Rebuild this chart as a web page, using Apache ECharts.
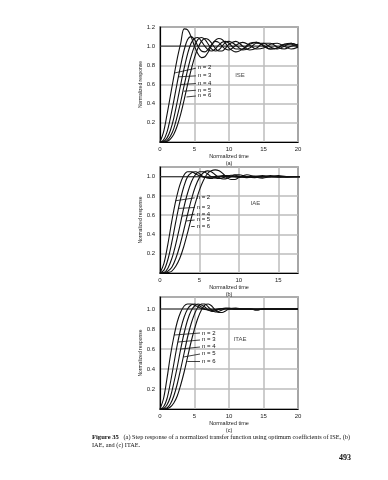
<!DOCTYPE html>
<html><head><meta charset="utf-8">
<script src="https://cdn.jsdelivr.net/npm/echarts@6/dist/echarts.min.js"></script>
<style>html,body{margin:0;padding:0;background:#fff}#c{width:388px;height:480px}</style>
</head><body><div id="c"></div>
<script>
// time samples (normalized time)
const T = [0,0.5,1,1.5,2,2.5,3,3.5,4,4.5,5,5.5,6,6.5,7,7.5,8,8.5,9,9.5,10,11,12,13,14,15,16,17,18,19,20];
const orders = [2,3,4,5,6];

// (a) ISE
const ise_n2 = [0,0.1,0.28,0.48,0.68,0.87,1.03,1.18,1.17,1.1,1.0,0.92,0.88,0.89,0.94,1.01,1.06,1.08,1.07,1.03,0.98,0.94,0.97,1.03,1.04,1.0,0.97,0.98,1.02,1.02,0.99];
const ise_n3 = [0,0.02,0.1,0.25,0.43,0.62,0.8,0.96,1.07,1.1,1.07,1.0,0.95,0.94,0.97,1.02,1.05,1.04,1.0,0.97,0.96,1.01,1.04,1.01,0.97,0.98,1.02,1.03,1.0,0.97,0.99];
const ise_n4 = [0,0.005,0.04,0.12,0.25,0.42,0.6,0.77,0.92,1.03,1.08,1.09,1.05,1.0,0.96,0.95,0.97,1.01,1.04,1.05,1.03,0.97,0.97,1.02,1.04,1.01,0.97,0.98,1.02,1.03,1.0];
const ise_n5 = [0,0,0.015,0.06,0.14,0.27,0.42,0.59,0.75,0.89,1.0,1.07,1.09,1.07,1.02,0.97,0.95,0.96,1.0,1.04,1.05,1.01,0.96,0.98,1.03,1.03,0.99,0.97,1.0,1.03,1.01];
const ise_n6 = [0,0,0.005,0.03,0.08,0.17,0.29,0.44,0.6,0.75,0.88,0.98,1.05,1.08,1.07,1.03,0.98,0.95,0.95,0.98,1.02,1.05,1.0,0.96,0.98,1.03,1.03,0.99,0.97,1.0,1.02];

// (b) IAE
const iae_n2 = [0,0.1,0.3,0.54,0.75,0.91,1.01,1.05,1.05,1.03,1.01,0.995,0.99,0.995,1.0,1.005,1.005,1.0,1.0,1.0,1.0,1.0,1.0,1.0,1.0,1.0,1.0,1.0,1.0,1.0,1.0];
const iae_n3 = [0,0.03,0.14,0.32,0.53,0.73,0.89,1.0,1.04,1.05,1.03,1.0,0.985,0.98,0.99,1.0,1.01,1.01,1.005,1.0,0.995,1.0,1.005,1.0,1.0,1.0,1.0,1.0,1.0,1.0,1.0];
const iae_n4 = [0,0.005,0.05,0.15,0.3,0.48,0.67,0.83,0.95,1.02,1.05,1.05,1.03,1.0,0.985,0.98,0.99,1.005,1.015,1.015,1.005,0.99,1.0,1.01,1.0,0.995,1.0,1.0,1.0,1.0,1.0];
const iae_n5 = [0,0,0.02,0.06,0.15,0.28,0.44,0.61,0.77,0.9,0.99,1.04,1.06,1.05,1.02,0.99,0.975,0.98,1.0,1.02,1.02,1.0,0.99,1.0,1.01,1.0,0.995,1.0,1.0,1.0,1.0];
const iae_n6 = [0,0,0.005,0.02,0.07,0.15,0.27,0.42,0.58,0.73,0.86,0.96,1.03,1.06,1.07,1.06,1.03,0.99,0.97,0.97,0.99,1.02,1.0,0.985,1.0,1.01,1.0,1.0,1.0,1.0,1.0];

// (c) ITAE
const itae_n2 = [0,0.1,0.3,0.53,0.72,0.87,0.97,1.03,1.05,1.05,1.04,1.02,1.005,0.995,0.99,0.99,0.995,1.0,1.0,1.0,1.0,1.0,1.0,1.0,1.0,1.0,1.0,1.0,1.0,1.0,1.0];
const itae_n3 = [0,0.02,0.1,0.26,0.45,0.64,0.8,0.92,1.0,1.04,1.05,1.04,1.02,1.0,0.99,0.985,0.99,1.0,1.005,1.005,1.0,1.0,1.0,1.0,1.0,1.0,1.0,1.0,1.0,1.0,1.0];
const itae_n4 = [0,0.005,0.04,0.12,0.26,0.42,0.6,0.76,0.89,0.98,1.03,1.05,1.04,1.02,0.99,0.975,0.98,0.995,1.005,1.01,1.005,1.0,1.0,1.0,0.995,1.0,1.0,1.0,1.0,1.0,1.0];
const itae_n5 = [0,0,0.01,0.05,0.13,0.25,0.4,0.56,0.72,0.85,0.95,1.02,1.05,1.05,1.02,0.99,0.97,0.975,0.99,1.005,1.01,1.0,1.0,1.0,0.99,1.0,1.0,1.0,1.0,1.0,1.0];
const itae_n6 = [0,0,0.003,0.02,0.06,0.13,0.24,0.37,0.52,0.67,0.8,0.91,0.99,1.04,1.05,1.03,0.99,0.965,0.965,0.98,1.0,1.01,1.0,1.0,0.99,1.0,1.0,1.0,1.0,1.0,1.0];

// annotation leaders: start on curve -> end at label
const annA_from = [[2.1,0.72],[2.65,0.68],[3.0,0.6],[3.45,0.53],[3.85,0.47]];
const annA_to   = [[5.2,0.77],[5.2,0.69],[5.2,0.61],[5.2,0.54],[5.2,0.48]];
const annB_from = [[2.0,0.75],[2.35,0.67],[2.8,0.59],[3.3,0.54],[3.95,0.48]];
const annB_to   = [[4.4,0.78],[4.4,0.68],[4.4,0.61],[4.4,0.55],[4.4,0.48]];
const annC_from = [[2.05,0.74],[2.6,0.67],[3.0,0.6],[3.4,0.52],[3.95,0.48]];
const annC_to   = [[5.8,0.76],[5.8,0.69],[5.8,0.62],[5.8,0.55],[5.8,0.48]];
const criteria = ['ISE','IAE','ITAE'];
const criteriaPos = [[11.6,0.70],[12.1,0.72],[11.6,0.70]];
const panelTags = ['(a)','(b)','(c)'];
const xMax = [20,17.5,20];
const yMax = [1.2,1.1,1.12];

const panels = [
  {curves:[ise_n2,ise_n3,ise_n4,ise_n5,ise_n6], from:annA_from, to:annA_to},
  {curves:[iae_n2,iae_n3,iae_n4,iae_n5,iae_n6], from:annB_from, to:annB_to},
  {curves:[itae_n2,itae_n3,itae_n4,itae_n5,itae_n6], from:annC_from, to:annC_to}
];

const FONT = 'Liberation Sans, Arial, sans-serif';
const grids = [
  {left:160, top:27, width:138, height:115},
  {left:160, top:167, width:138, height:106},
  {left:160, top:297, width:138, height:112}
].map(g=>Object.assign(g,{show:true,borderColor:'#000',borderWidth:1.2,backgroundColor:'transparent'}));

const xAxes = [], yAxes = [], series = [];
panels.forEach((p,i)=>{
  xAxes.push({type:'value', gridIndex:i, min:0, max:xMax[i], interval:5,
    axisLine:{show:true,onZero:false,lineStyle:{color:'#000',width:1.2}},
    axisTick:{show:false},
    axisLabel:{fontSize:6,color:'#222',fontFamily:FONT,margin:4,
      formatter:v=> (v%5===0)? String(v):''},
    splitLine:{show:true,lineStyle:{color:'#bcbcbc',width:1.5}},
    name:'Normalized time\n'+panelTags[i], nameLocation:'middle', nameGap:6,
    nameTextStyle:{fontSize:5.5,color:'#222',fontFamily:FONT,lineHeight:7,verticalAlign:'top'}
  });
  yAxes.push({type:'value', gridIndex:i, min:0, max:yMax[i], interval:0.2,
    axisLine:{show:true,lineStyle:{color:'#000',width:1.2}},
    axisTick:{show:false},
    axisLabel:{fontSize:6,color:'#222',fontFamily:FONT,margin:5,
      formatter:v=> (v<0.01 || (v>1.01 && Math.abs(v-1.2)>0.01))? '' : v.toFixed(1)},
    splitLine:{show:true,lineStyle:{color:'#bcbcbc',width:1.5}},
    name:'Normalized response', nameLocation:'middle', nameGap:16,
    nameTextStyle:{fontSize:5,color:'#222',fontFamily:FONT}
  });
  p.curves.forEach((vals,k)=>{
    const n = orders[k];
    series.push({type:'line', xAxisIndex:i, yAxisIndex:i, showSymbol:false, smooth:0.35,
      data: T.map((t,j)=>[t,vals[j]]), clip:true, silent:true,
      lineStyle:{color:'#111',width:1.1},
      markLine:{silent:true, symbol:['none','none'], animation:false,
        lineStyle:{color:'#111',width:0.8,type:'solid'},
        label:{show:true, position:'end', formatter:'n = '+n, fontSize:6, color:'#111', fontFamily:FONT, distance:2},
        data:[[{coord:p.from[k]},{coord:p.to[k]}]]
      }
    });
  });
  // darker reference line at 1.0
  series.push({type:'line', xAxisIndex:i, yAxisIndex:i, showSymbol:false, silent:true,
    data:[[0,1],[xMax[i],1]], lineStyle:{color:'#333',width:1}, z:1});
  series.push({type:'scatter', xAxisIndex:i, yAxisIndex:i, symbolSize:0, silent:true,
    data:[criteriaPos[i]],
    label:{show:true, position:'inside', formatter:criteria[i], fontSize:6, color:'#111', fontFamily:FONT}});
});

const chart = echarts.init(document.getElementById('c'), null, {renderer:'canvas'});
chart.setOption({
  animation:false,
  backgroundColor:'#fff',
  grid:grids, xAxis:xAxes, yAxis:yAxes, series:series,
  graphic:[
    {type:'text', left:92, top:433, style:{text:'{b|Figure 35}   (a) Step response of a normalized transfer function using optimum coefficients of ISE, (b)\nIAE, and (c) ITAE.',
      font:'6.3px Liberation Serif, serif', fill:'#111', lineHeight:8.5,
      rich:{b:{fontWeight:'bold',fontSize:6.6,fontFamily:'Liberation Serif, serif',fill:'#111'}}}},
    {type:'text', left:339, top:454, style:{text:'493', font:'bold 8px Liberation Serif, serif', fill:'#111'}}
  ]
});
</script></body></html>
